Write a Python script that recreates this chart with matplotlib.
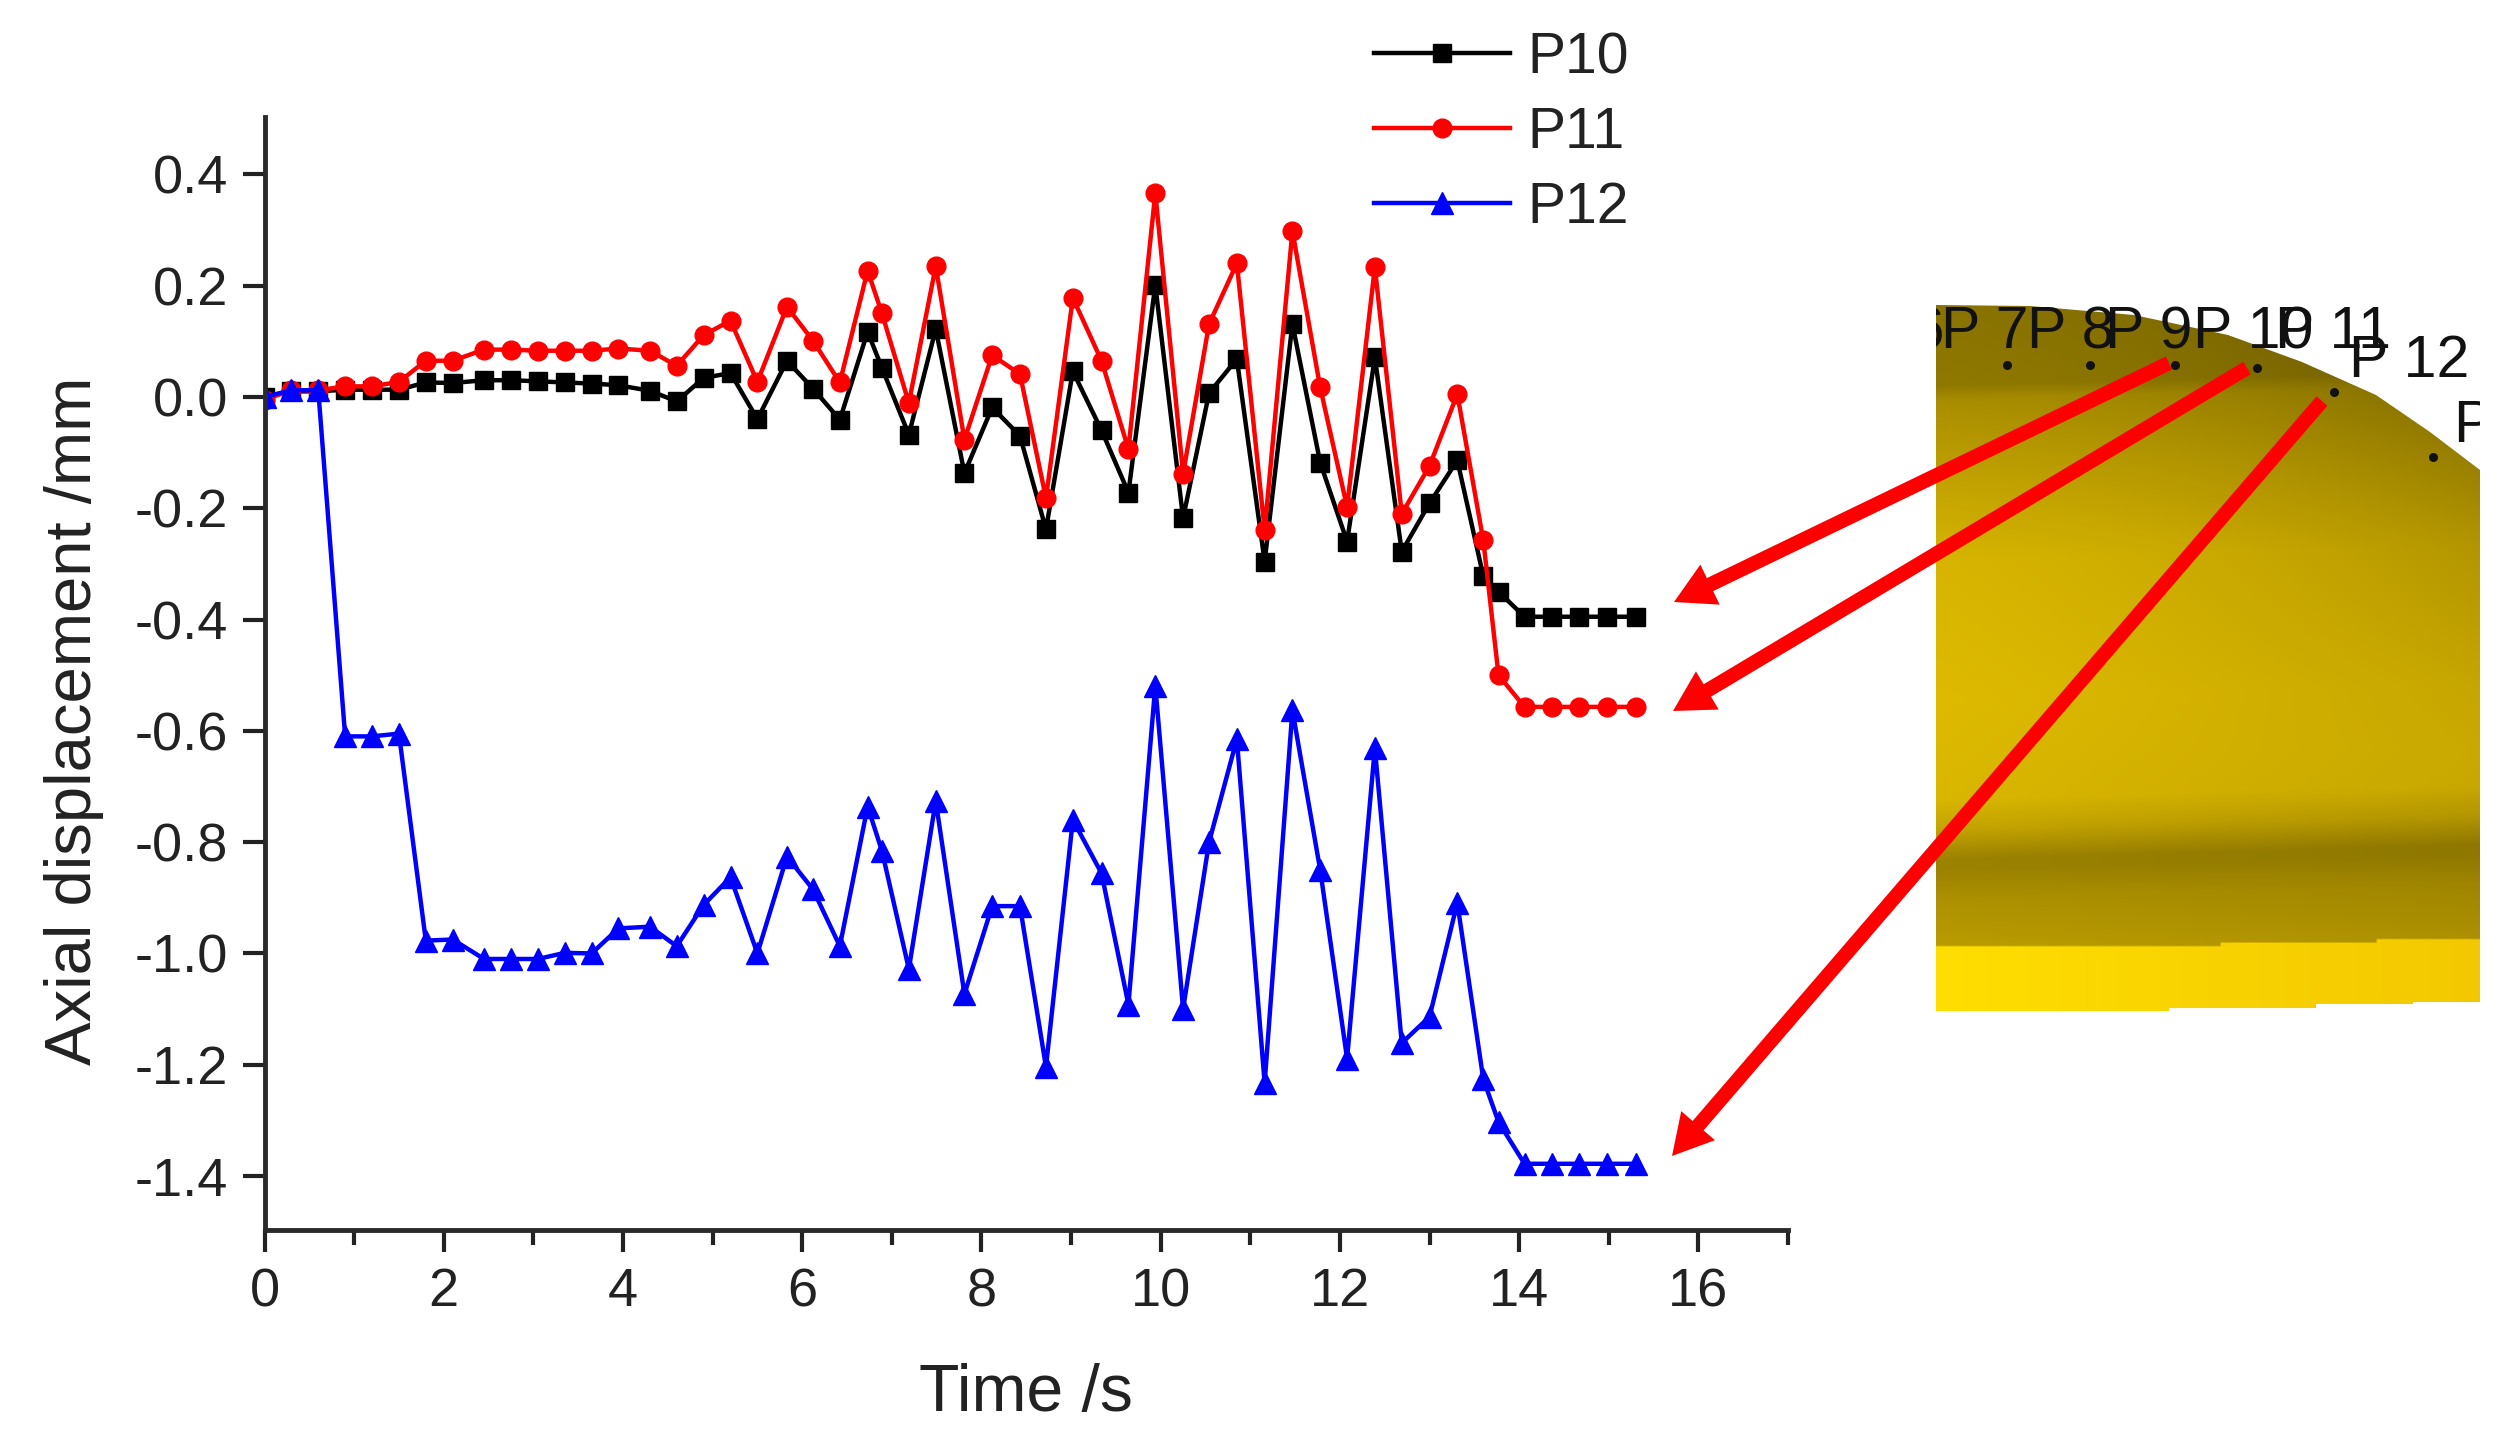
import numpy as np
import matplotlib
matplotlib.use('Agg')
import matplotlib.pyplot as plt
from matplotlib.patches import FancyArrowPatch, Polygon, Rectangle

plt.rcParams['font.family'] = ['Liberation Sans', 'DejaVu Sans']

time_s = [0, 0.3, 0.6, 0.9, 1.2, 1.5, 1.8, 2.1, 2.45, 2.75, 3.05, 3.35, 3.65, 3.95, 4.3, 4.6, 4.9, 5.2,
          5.5, 5.83, 6.12, 6.42, 6.73, 6.89, 7.19, 7.49, 7.81, 8.12, 8.43, 8.72, 9.02, 9.34, 9.64, 9.94,
          10.25, 10.54, 10.85, 11.16, 11.47, 11.78, 12.08, 12.39, 12.69, 13.0, 13.31, 13.6, 13.77,
          14.06, 14.37, 14.67, 14.98, 15.3]
p10 = [0, 0.01, 0.01, 0.013, 0.013, 0.013, 0.026, 0.025, 0.03, 0.03, 0.028, 0.026, 0.024, 0.021, 0.011, -0.008, 0.034, 0.043,
       -0.04, 0.065, 0.015, -0.041, 0.117, 0.052, -0.068, 0.122, -0.137, -0.019, -0.07, -0.238, 0.046, -0.06, -0.172, 0.201,
       -0.218, 0.007, 0.068, -0.296, 0.131, -0.118, -0.26, 0.071, -0.278, -0.191, -0.114, -0.322, -0.35,
       -0.395, -0.395, -0.395, -0.395, -0.395]
p11 = [-0.005, 0.012, 0.012, 0.019, 0.019, 0.027, 0.065, 0.065, 0.085, 0.085, 0.083, 0.083, 0.083, 0.087, 0.083, 0.056, 0.111, 0.137,
       0.027, 0.162, 0.101, 0.026, 0.227, 0.15, -0.011, 0.235, -0.077, 0.075, 0.041, -0.182, 0.178, 0.065, -0.094, 0.366,
       -0.138, 0.131, 0.24, -0.239, 0.298, 0.017, -0.198, 0.233, -0.21, -0.124, 0.005, -0.258, -0.50,
       -0.557, -0.557, -0.557, -0.557, -0.557]
p12 = [0, 0.012, 0.012, -0.61, -0.61, -0.605, -0.977, -0.975, -1.01, -1.01, -1.01, -0.999, -1.0, -0.955, -0.952, -0.987, -0.913, -0.863,
       -1.0, -0.826, -0.885, -0.987, -0.736, -0.816, -1.028, -0.726, -1.073, -0.915, -0.915, -1.204, -0.76, -0.856, -1.092, -0.519,
       -1.10, -0.80, -0.615, -1.233, -0.563, -0.85, -1.189, -0.631, -1.161, -1.114, -0.909, -1.226, -1.303,
       -1.378, -1.378, -1.378, -1.378, -1.378]
x_ticks = [0, 2, 4, 6, 8, 10, 12, 14, 16]
y_ticks = [-1.4, -1.2, -1.0, -0.8, -0.6, -0.4, -0.2, 0.0, 0.2, 0.4]

W, H = 2512, 1450
fig = plt.figure(figsize=(W / 100, H / 100), dpi=100)
ax = fig.add_axes([264.5 / W, 1 - 1230 / H, (1788 - 264.5) / W, (1230 - 117) / H])

ax.plot(time_s, p10, '-s', color='black', lw=3.2, ms=13, label='P10')
ax.plot(time_s, p11, '-o', color='#ff0000', lw=3.2, ms=13.5, label='P11')
ax.plot(time_s, p12, '-^', color='#0000ff', lw=3.2, ms=16, label='P12')

ax.set_xlim(0, 17)
ax.set_ylim(-1.497, 0.503)
ax.set_xticks(x_ticks)
ax.set_xticks([1, 3, 5, 7, 9, 11, 13, 15, 17], minor=True)
ax.set_yticks(y_ticks)
ax.set_yticklabels(['%.1f' % v for v in y_ticks])
for s in ['top', 'right']:
    ax.spines[s].set_visible(False)
for s in ['left', 'bottom']:
    ax.spines[s].set_linewidth(3.5)
    ax.spines[s].set_color('#2a2a2a')
ax.tick_params(which='major', length=16, width=3, labelsize=39, color='#222222', labelcolor='#222222', pad=10)
ax.tick_params(axis='x', which='major', pad=11)
ax.tick_params(which='minor', length=10.8, width=3, color='#222222')
ax.set_xlabel('Time /s', fontsize=47.5, color='#222222', labelpad=33)
ax.set_ylabel('Axial displacement /mm', fontsize=47, color='#222222')
ax.yaxis.set_label_coords(-0.1053, 0.4573)
ax.legend(loc='upper left', bbox_to_anchor=(1373.5 / W, 1 - 31 / H), bbox_transform=fig.transFigure,
          frameon=False, fontsize=41, handlelength=2.4, labelspacing=0.37, handletextpad=0.3,
          borderpad=0, borderaxespad=0, labelcolor='#222222')

# overlay in pixel coordinates for the inset picture and arrows
ov = fig.add_axes([0, 0, 1, 1], facecolor='none')
ov.set_xlim(0, W)
ov.set_ylim(H, 0)
ov.axis('off')

# shaded dome section, gradient clipped to its outline
px0, px1, py0, py1 = 1936, 2480, 300, 1012
yy = np.linspace(py0, py1, 400)
xx = np.linspace(px0, px1, 300)
X, Y = np.meshgrid(xx, yy)
u = (X - px0) / (px1 - px0)
stops_y = [305, 385, 400, 470, 560, 700, 800, 830, 860, 870, 900, 950]
stops_f = [0.62, 0.65, 0.76, 0.86, 0.97, 1.0, 0.98, 0.88, 0.70, 0.70, 0.78, 0.84]
shade = np.interp(Y + 15 * u, stops_y, stops_f)
shade = shade * (1 - 0.08 * u) * (1 - 0.22 * u ** 2 * np.clip((750 - Y) / 450, 0, 1))
img = np.zeros(Y.shape + (3,))
img[:, :, 0] = 222 * shade / 255
img[:, :, 1] = 186 * shade / 255
ledge = np.where(X < 2220, 946, np.where(X < 2378, 943, 939))
bright = Y > ledge
img[:, :, 0][bright] = ((255 - 12 * u)[bright]) / 255
img[:, :, 1][bright] = ((222 - 22 * u)[bright]) / 255
im = ov.imshow(img, extent=[px0, px1, py1, py0], aspect='auto', zorder=1, interpolation='bilinear')
outline = [(1936, 305), (2030, 306), (2134, 315), (2228, 335), (2302, 362), (2376, 395), (2430, 432), (2480, 470),
           (2480, 1002), (2413, 1002), (2413, 1004), (2316, 1004), (2316, 1008), (2169, 1008), (2169, 1011), (1936, 1011)]
clip = Polygon(outline, transform=ov.transData, facecolor='none', edgecolor='none')
ov.add_patch(clip)
im.set_clip_path(clip)
ov.set_xlim(0, W)
ov.set_ylim(H, 0)

# point dots and labels on the picture
for dx, dy in [(2007, 365), (2090, 365), (2175, 365), (2257, 368), (2334, 392), (2433, 457)]:
    ov.plot([dx], [dy], 'o', color='#111111', ms=6.5, mew=0, zorder=3)
frame = Rectangle((1936, 250), 544, 300, transform=ov.transData, facecolor='none', edgecolor='none')
ov.add_patch(frame)
for txt, tx, ty in [('P 6', 1857, 348), ('P 7', 1941, 348), ('P 8', 2027, 348), ('P 9', 2105, 348), ('P 10', 2193, 348),
                    ('P 11', 2275, 348), ('P 12', 2349, 377), ('P', 2453, 442)]:
    t = ov.text(tx, ty, txt, fontsize=42.5, color='#111111', zorder=4, ha='left', va='baseline')
    t.set_clip_on(True)
    t.set_clip_path(frame)

# red arrows from the points to the curves
for start, tip in [((2169, 363), (1674, 602)), ((2247, 368), (1673, 711)), ((2322, 401), (1672, 1156))]:
    ov.add_patch(FancyArrowPatch(start, tip, arrowstyle='simple,head_length=1.8,head_width=2.0,tail_width=0.65',
                                 mutation_scale=16, color='#ff0000', lw=0, zorder=5, shrinkA=0, shrinkB=0))

fig.savefig('out.png', dpi=100, facecolor='white')
